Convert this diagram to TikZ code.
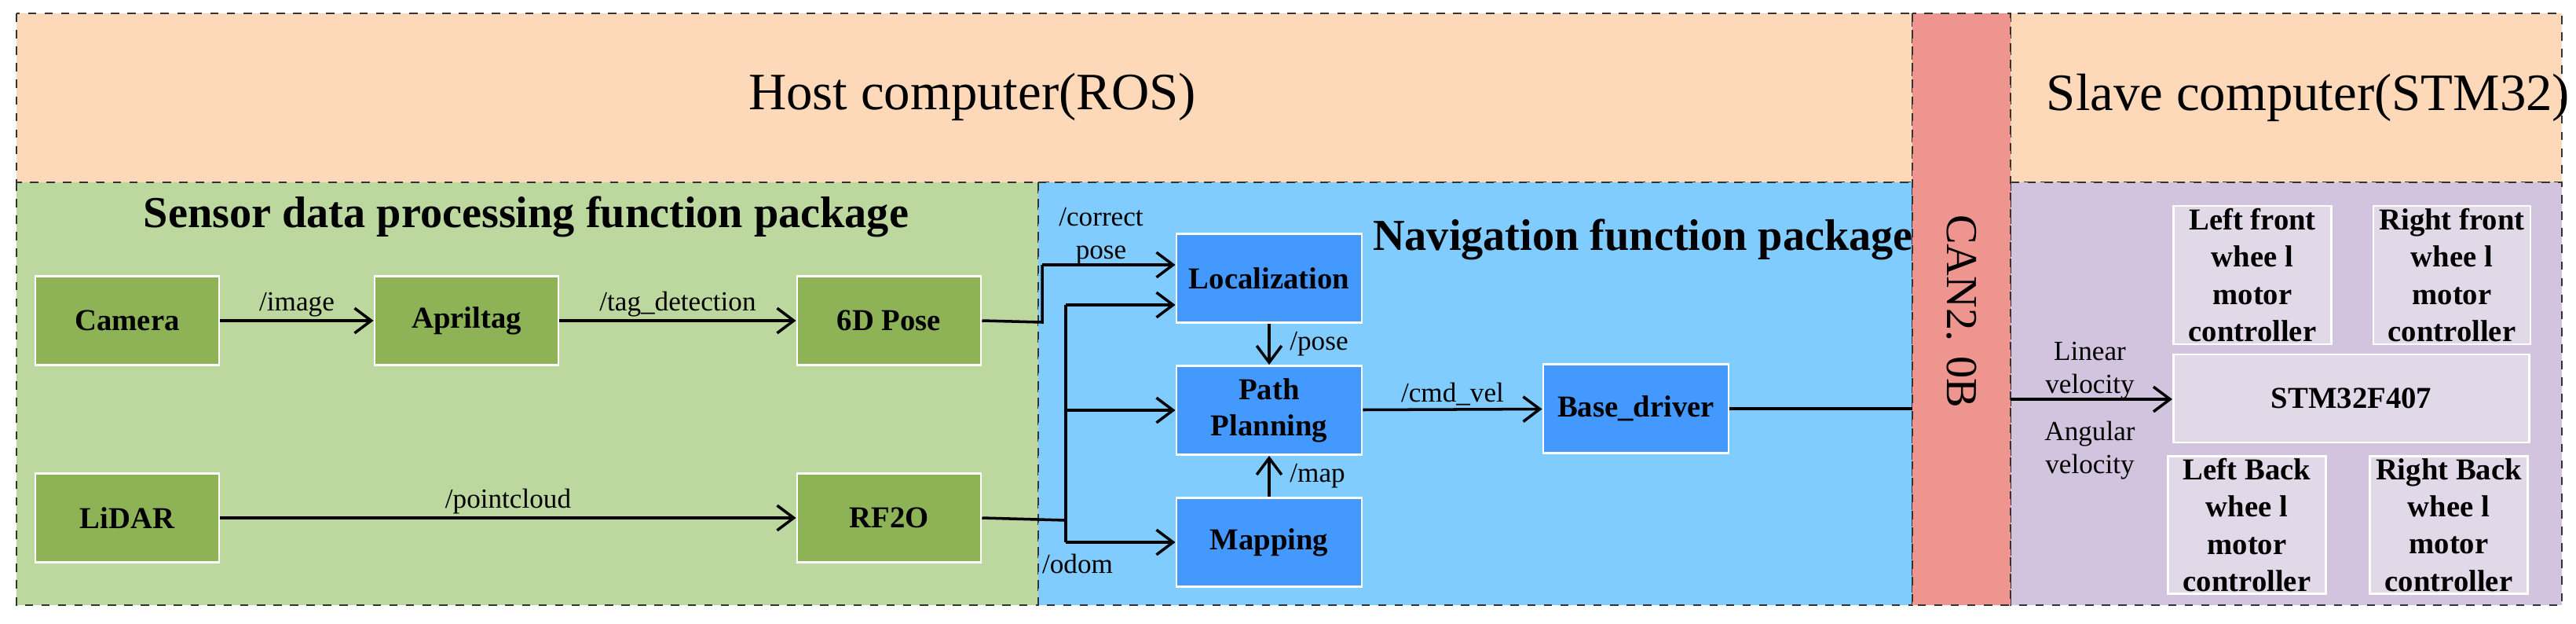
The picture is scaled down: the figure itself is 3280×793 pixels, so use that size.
\documentclass[tikz,border=0pt]{standalone}
\usepackage{fontspec}
\setmainfont{Liberation Serif}
\usetikzlibrary{arrows.meta}
\definecolor{hostc}{HTML}{FDD8B9}
\definecolor{greenreg}{HTML}{BCD89E}
\definecolor{greenbox}{HTML}{8EB356}
\definecolor{bluereg}{HTML}{80CCFF}
\definecolor{bluebox}{HTML}{4499FF}
\definecolor{canc}{HTML}{EE9590}
\definecolor{purpreg}{HTML}{D2C3DE}
\definecolor{purpbox}{HTML}{E1D9E8}
\tikzset{
 region/.style={draw=black!80, dashed, line width=0.6pt},
 gbox/.style={fill=greenbox, draw=white, line width=0.8pt, minimum width=2.34cm, minimum height=1.13cm, font=\fontsize{11}{13}\selectfont\bfseries, inner sep=0pt},
 bbox/.style={fill=bluebox, draw=white, line width=0.8pt, minimum width=2.36cm, minimum height=1.13cm, font=\fontsize{11}{13}\selectfont\bfseries, align=center, inner sep=0pt},
 pbox/.style={fill=purpbox, draw=white, line width=0.8pt, font=\fontsize{11}{13.5}\selectfont\bfseries, align=center, inner sep=0pt},
 conn/.style={line width=1pt, -{Straight Barb[length=6pt,width=9pt]}},
 lbl/.style={font=\fontsize{10}{12}\selectfont, inner sep=1pt},
 title/.style={font=\fontsize{19}{22}\selectfont},
 btitle/.style={font=\fontsize{16}{19}\selectfont\bfseries},
}
\begin{document}
\begin{tikzpicture}[x=0.01cm,y=-0.01cm]
\useasboundingbox (0,0) rectangle (3280,793);
\fill[white] (0,0) rectangle (3280,793);
% regions
\draw[region, fill=hostc] (21,17) rectangle (2435,232);
\draw[region, fill=hostc] (2560,17) rectangle (3262,232);
\draw[region, fill=greenreg] (21,232) rectangle (1322,770);
\draw[region, fill=bluereg] (1322,232) rectangle (2435,770);
\draw[region, fill=purpreg] (2560,232) rectangle (3262,770);
\draw[region, fill=canc] (2435,17) rectangle (2560,770);
\node[title] (host) at (1238,123) {Host computer(ROS)};
\node[title] (slave) at (2939,124) {Slave computer(STM32)};
\node[btitle] (sens) at (670,276) {Sensor data processing function package};
\node[btitle] (nav) at (2092,305) {Navigation function package};
\node[font=\fontsize{16}{19}\selectfont, rotate=-90] (can) at (2498,396) {CAN2. 0B};
% green boxes
\node[gbox] (camera) at (162,408) {Camera};
\node[gbox] (april) at (594,408) {Apriltag};
\node[gbox] (pose6) at (1132,408) {6D Pose};
\node[gbox] (lidar) at (162,659) {LiDAR};
\node[gbox] (rf2o) at (1132,659) {RF2O};
% blue boxes
\node[bbox] (loc) at (1616,354) {Localization};
\node[bbox] (plan) at (1616,522) {Path\\Planning};
\node[bbox] (map) at (1616,690) {Mapping};
\node[bbox] (base) at (2083,520) {Base\_driver};
% purple boxes
\node[pbox, minimum width=2.01cm, minimum height=1.76cm] (lf) at (2868,350) {Left front\\whee l\\motor\\controller};
\node[pbox, minimum width=2.00cm, minimum height=1.76cm] (rf) at (3122,350) {Right front\\whee l\\motor\\controller};
\node[pbox, minimum width=4.53cm, minimum height=1.12cm] (stm) at (2994,507) {STM32F407};
\node[pbox, minimum width=2.01cm, minimum height=1.75cm] (lb) at (2861,668) {Left Back\\whee l\\motor\\controller};
\node[pbox, minimum width=2.01cm, minimum height=1.75cm] (rb) at (3118,668) {Right Back\\whee l\\motor\\controller};
% coordinates
\coordinate (j1) at (1327,410);
\coordinate (j1t) at (1327,337);
\coordinate (v) at (1357,662);
\coordinate (vt) at (1357,388);
\coordinate (vb) at (1357,690);
\coordinate (canl) at (2435,520);
\coordinate (canr) at (2560,508);
% connectors
\draw[conn] (camera) -- node[lbl, above] {/image} (april);
\draw[conn] (april) -- node[lbl, above] {/tag\_detection} (pose6);
\draw[conn] (lidar) -- node[lbl, above] {/pointcloud} (rf2o);
\draw[line width=1pt] (pose6.east) -- (j1) -- (j1t);
\draw[conn] (j1t) -- (j1t -| loc.west);
\draw[line width=1pt] (rf2o.east) -- (v);
\draw[line width=1pt] (vt) -- (vb);
\draw[conn] (vt) -- (vt -| loc.west);
\draw[conn] (plan.west -| vt) -- (plan.west);
\draw[conn] (vb) -- (vb -| map.west);
\draw[conn] (loc) -- node[lbl, right, xshift=6pt] {/pose} (plan);
\draw[conn] (map) -- node[lbl, right, xshift=6pt] {/map} (plan);
\draw[conn] (plan) -- node[lbl, above] {/cmd\_vel} (base);
\draw[line width=1pt] (base) -- (canl);
\draw[conn] (canr) -- (canr -| stm.west);
\node[lbl, align=center] (cp) at (1402,301) {/correct\\pose};
\node[lbl] (odom) at (1372,717) {/odom};
\node[lbl, align=center] (linv) at (2661,472) {Linear\\velocity};
\node[lbl, align=center] (angv) at (2661,573) {Angular\\velocity};
\end{tikzpicture}
\end{document}
